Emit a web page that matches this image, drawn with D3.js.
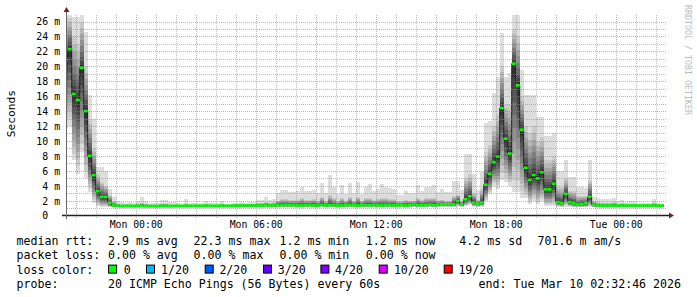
<!DOCTYPE html>
<html><head><meta charset="utf-8">
<script src="https://cdn.jsdelivr.net/npm/d3@7/dist/d3.min.js"></script>
<style>
html,body{margin:0;padding:0;background:#fff;}
svg{display:block;}
text{font-family:"DejaVu Sans Mono",monospace;}
</style></head><body>
<svg id="chart" width="697" height="297"></svg>
<script>
// ---------- data ----------
const endTime = Date.UTC(2026, 2, 10, 2, 32, 46);
const startTime = endTime - 30 * 3600 * 1000;
const firstStepTime = Date.UTC(2026, 2, 8, 20, 24, 0);
const stepMinutes = 12;

// median rtt per 12-minute step (ms)
const median = [
  20.9,22.3,16.3,15.5,19.8,14.0,8.0,5.4,3.25,2.5,2.5,1.7,1.35,
  1.30,1.28,1.30,1.30,1.28,1.30,1.30,1.28,1.27,1.27,
  1.27,1.30,1.30,1.28,1.28,1.30,1.30,1.32,1.30,1.30,
  1.30,1.30,1.32,1.30,1.30,1.30,1.32,1.30,1.30,1.32,
  1.33,1.35,1.33,1.35,1.35,1.35,1.33,1.38,1.35,1.35,
  1.40,1.38,1.40,1.38,1.40,1.35,1.35,1.38,1.40,1.35,
  1.35,1.42,1.35,1.40,1.38,1.35,1.35,1.38,1.40,1.38,
  1.35,1.38,1.40,1.38,1.40,1.38,1.35,1.38,1.40,1.35,
  1.38,1.38,1.35,1.40,1.45,1.40,1.38,1.40,1.45,1.40,1.42,
  1.50,1.50,1.50,1.50,1.94,1.50,2.17,2.57,1.72,1.55,1.73,
  4.13,5.60,7.17,7.90,14.40,10.30,8.30,20.35,17.45,11.50,6.40,
  4.76,5.43,4.98,5.79,3.50,3.50,4.26,1.80,1.66,2.90,1.80,1.63,1.47,1.54,1.68,2.52,1.43,
  1.35,1.33,1.33,1.35,1.33,1.33,1.33,1.35,1.33,1.33,1.33,1.33,1.35,1.33,1.33,1.33,1.33
];
// fastest ping per step (ms)
const pingLow = [
  11.7,12.0,7.4,5.6,8.5,5.0,3.2,1.7,1.25,1.2,1.2,1.1,1.1,
  1.08,1.07,1.08,1.08,1.07,1.08,1.08,1.07,1.06,1.06,
  1.06,1.08,1.08,1.07,1.07,1.08,1.08,1.09,1.08,1.08,
  1.08,1.08,1.09,1.08,1.08,1.08,1.09,1.08,1.08,1.09,
  1.09,1.10,1.09,1.10,1.10,1.10,1.09,1.11,1.10,1.10,
  1.12,1.11,1.12,1.11,1.12,1.10,1.10,1.11,1.12,1.10,
  1.10,1.13,1.10,1.12,1.11,1.10,1.10,1.11,1.12,1.11,
  1.10,1.11,1.12,1.11,1.12,1.11,1.10,1.11,1.12,1.10,
  1.11,1.11,1.10,1.12,1.14,1.12,1.11,1.12,1.14,1.12,1.13,
  1.15,1.15,1.15,1.15,1.2,1.15,1.3,1.4,1.2,1.15,1.2,
  1.9,2.9,4.0,3.6,4.7,4.5,4.0,3.1,3.2,2.4,2.3,
  1.5,2.0,1.5,1.9,1.3,1.3,1.3,1.15,1.15,1.2,1.15,1.1,1.1,1.1,1.1,1.15,1.1,
  1.1,1.1,1.1,1.1,1.1,1.1,1.1,1.1,1.1,1.1,1.1,1.1,1.1,1.1,1.1,1.1,1.1
];
// slowest ping per step (ms)
const pingHigh = [
  26.9,26.9,26.6,26.6,26.9,24.6,16.2,13.0,6.5,6.5,5.9,3.6,2.5,
  2.0,1.8,1.7,1.8,1.7,1.9,2.43,1.94,1.72,1.72,
  1.72,2.08,2.08,1.77,1.77,1.63,1.55,2.17,1.72,1.63,
  1.63,1.63,1.98,1.63,1.63,1.63,1.98,1.59,1.59,1.72,
  1.70,1.85,1.72,1.81,1.81,2.08,2.08,2.52,2.08,2.17,
  2.97,3.42,3.42,3.15,3.15,3.30,3.86,3.33,3.33,3.42,
  2.97,4.40,3.06,5.43,3.86,2.88,4.05,2.88,4.40,2.97,
  4.49,2.88,3.86,4.22,3.24,3.60,4.22,3.86,3.69,3.60,
  2.79,2.79,3.24,2.97,3.06,4.13,3.24,3.86,3.86,4.13,3.15,
  3.5,3.1,3.1,4.58,4.58,3.4,8.2,8.2,5.6,3.4,5.8,
  12.4,12.6,16.4,18.5,24.5,18.5,19.1,26.9,26.9,19.5,16.2,
  16.2,16.1,13.2,13.2,10.6,10.6,11.1,6.0,6.0,7.5,5.1,5.1,3.86,3.86,3.7,7.5,2.5,
  2.3,2.17,2.17,2.2,2.3,1.9,2.03,1.8,1.9,2.0,1.65,1.65,1.65,1.7,2.17,1.63,1.6
];
// upper edge of the bulk of pings (ms)
const pingMidHigh = [
  26.5,26.5,24.0,23.0,26.0,20.0,13.0,9.0,5.5,4.5,4.0,2.8,1.9,
  1.6,1.5,1.5,1.5,1.5,1.55,1.7,1.6,1.5,1.5,
  1.5,1.6,1.6,1.5,1.5,1.5,1.45,1.6,1.5,1.5,
  1.5,1.5,1.6,1.5,1.5,1.5,1.6,1.5,1.5,1.55,
  1.55,1.6,1.55,1.6,1.6,1.7,1.7,1.8,1.7,1.75,
  2.0,2.2,2.2,2.1,2.1,2.1,2.3,2.1,2.1,2.2,
  2.0,2.5,2.0,2.8,2.3,2.0,2.4,2.0,2.5,2.0,
  2.5,2.0,2.3,2.4,2.1,2.2,2.4,2.3,2.2,2.2,
  1.9,1.9,2.1,2.0,2.0,2.4,2.1,2.3,2.3,2.4,2.1,
  2.1,2.0,2.0,2.6,2.8,2.0,5.0,5.5,3.0,2.1,3.5,
  8.5,9.5,12.0,13.5,20.0,15.0,15.0,25.0,24.0,16.0,12.0,
  11.0,12.0,10.0,10.5,7.5,7.5,8.0,3.8,3.8,5.0,3.3,3.3,2.6,2.6,2.6,4.8,1.9,
  1.75,1.7,1.7,1.7,1.75,1.6,1.65,1.55,1.6,1.6,1.5,1.5,1.5,1.5,1.7,1.5,1.5
];

const yTickValues = [0,2,4,6,8,10,12,14,16,18,20,22,24,26];
const xTickTimes = [
  Date.UTC(2026,2,9,0,0), Date.UTC(2026,2,9,6,0), Date.UTC(2026,2,9,12,0),
  Date.UTC(2026,2,9,18,0), Date.UTC(2026,2,10,0,0)
];
const lossLabels = ["0","1/20","2/20","3/20","4/20","10/20","19/20"];
const lossColors = ["#00ff00","#00b8ff","#0059ff","#5e00ff","#7e00ff","#dd00ff","#ff0000"];
const smokeGrays = [221,202,183,164,145,126,107,88,69,50];

const statRows = [
  ["median rtt:", "2.9 ms avg", "22.3 ms max", "1.2 ms min", "1.2 ms now", "4.2 ms sd", "701.6 m am/s"],
  ["packet loss:", "0.00 % avg", "0.00 % max", "0.00 % min", "0.00 % now"]
];
const probeText = "20 ICMP Echo Pings (56 Bytes) every 60s";
const endText = "end: Tue Mar 10 02:32:46 2026";

// ---------- layout ----------
const plotL = 66.6, plotR = 666.6, plotB = 215.5, plotT = 14.8;
const svg = d3.select("#chart");
const x = d3.scaleUtc().domain([startTime, endTime]).range([plotL, plotR]);
const y = d3.scaleLinear().domain([0, 26.9]).range([plotB, plotT]);
const stepMs = stepMinutes * 60000;

svg.append("rect").attr("width",697).attr("height",297).attr("fill","#fff");
svg.append("clipPath").attr("id","clip").append("rect")
  .attr("x",plotL).attr("y",plotT).attr("width",plotR-plotL).attr("height",plotB-plotT);

const steps = median.map((m,i)=>({
  i, t0: firstStepTime + i*stepMs, t1: firstStepTime + (i+1)*stepMs,
  med: m, lo: pingLow[i], hi: pingHigh[i], mh: pingMidHigh[i]
}));

const g = svg.append("g").attr("clip-path","url(#clip)");

// smoke layers
smokeGrays.forEach((gray, li) => {
  const layer = li + 1;
  const col = d3.rgb(gray,gray,gray).formatHex();
  const topOf = d => layer === 1 ? d.hi : d.med + (d.mh - d.med) * Math.pow((11-layer)/9, 1.3);
  const botOf = d => d.med - (d.med - d.lo) * ((11-layer)/10);
  g.append("g").selectAll("rect").data(steps).join("rect")
    .attr("x", d => x(d.t0))
    .attr("width", d => x(d.t1) - x(d.t0) + 0.05)
    .attr("y", d => y(topOf(d)))
    .attr("height", d => Math.max(0, y(botOf(d)) - y(topOf(d))))
    .attr("fill", col)
    .attr("shape-rendering","crispEdges");
});

// median line (dark)
const linePts = steps.map(d => [x(d.t0), y(d.med)]);
linePts.push([x(steps[steps.length-1].t1), y(steps[steps.length-1].med)]);
g.append("path").attr("d", d3.line().curve(d3.curveStepAfter)(linePts))
  .attr("fill","none").attr("stroke","#202020").attr("stroke-width",1);

// loss-colored median markers
g.append("g").selectAll("rect").data(steps).join("rect")
  .attr("x", d => x(d.t0)).attr("width", d => x(d.t1) - x(d.t0))
  .attr("y", d => y(d.med) - 1.3).attr("height", 2.6)
  .attr("fill", lossColors[0]);

// grid (on top), dotted on whole pixels
const minorCol = "rgba(143,143,143,0.6)";
const majorCol = "rgba(222,79,79,0.55)";
const gx0 = Math.round(plotL), gx1 = Math.round(plotR);
const gy0 = Math.round(plotT) - 1, gy1 = Math.round(plotB) + 2;
const grid = svg.append("g").attr("shape-rendering","crispEdges");
const minorY = d3.range(1, 27, 1).filter(v => v % 2 !== 0);
grid.selectAll(".hmin").data(minorY).join("line")
  .attr("x1", gx0).attr("x2", gx1)
  .attr("y1", d => Math.round(y(d)) + 0.5).attr("y2", d => Math.round(y(d)) + 0.5)
  .attr("stroke",minorCol).attr("stroke-dasharray","1,1");
grid.selectAll(".hmaj").data(yTickValues.filter(v=>v>0)).join("line")
  .attr("x1", gx0).attr("x2", gx1)
  .attr("y1", d => Math.round(y(d)) + 0.5).attr("y2", d => Math.round(y(d)) + 0.5)
  .attr("stroke",majorCol).attr("stroke-dasharray","1,1");
const hours = d3.utcHour.range(new Date(startTime), new Date(endTime));
grid.selectAll(".v").data(hours).join("line")
  .attr("x1", d => Math.round(x(d)) + 0.5).attr("x2", d => Math.round(x(d)) + 0.5)
  .attr("y1", gy1).attr("y2", gy0)
  .attr("stroke", d => d.getUTCHours() % 3 === 0 ? majorCol : minorCol)
  .attr("stroke-dasharray","1,1");

// axes
const yAxis = d3.axisLeft(y).tickValues(yTickValues).tickSize(0).tickPadding(6.5)
  .tickFormat(d => d === 0 ? "0\u00a0\u00a0" : d + " m");
const yg = svg.append("g").attr("transform",`translate(${plotL},0)`).call(yAxis);
yg.select(".domain").remove();
yg.selectAll("text").attr("font-family","DejaVu Sans Mono").attr("font-size","9.9px").attr("fill","#000").attr("dy","0.35em");

const xAxis = d3.axisBottom(x).tickValues(xTickTimes.map(t=>new Date(t))).tickSize(0).tickPadding(6)
  .tickFormat(d3.utcFormat("%a %H:%M"));
const xg = svg.append("g").attr("transform",`translate(0,${plotB})`).call(xAxis);
xg.select(".domain").remove();
xg.selectAll("text").attr("font-family","DejaVu Sans Mono").attr("font-size","9.8px").attr("fill","#000");

// axis lines + arrows
svg.append("line").attr("x1",62).attr("x2",669).attr("y1",plotB).attr("y2",plotB)
  .attr("stroke","#1f1f1f").attr("stroke-width",1.4);
svg.append("path").attr("d",`M669,${plotB-3}L674,${plotB}L669,${plotB+3}Z`).attr("fill","#801f1f");
svg.append("line").attr("x1",66.5).attr("x2",66.5).attr("y1",219).attr("y2",12)
  .attr("stroke","#6a6a6a").attr("stroke-width",1);
svg.append("path").attr("d","M63.5,12L66.5,7L69.5,12Z").attr("fill","#801f1f");

// titles
svg.append("text").attr("transform","translate(15,113.7) rotate(-90)")
  .attr("text-anchor","middle").attr("font-size","11.2px").attr("fill","#000").text("Seconds");
svg.append("text").attr("transform","translate(685.3,5) rotate(90)")
  .attr("font-size","8.3px").attr("fill","#bcbcbc").text("RRDTOOL / TOBI OETIKER");

// legend
const fs = "11.6px";
const colX = [16.5, 108, 193.6, 279.5, 365.8, 459.3, 537.6];
const rowY = [245, 259.3, 273.6, 288];
statRows.forEach((row, r) => {
  row.forEach((txt, c) => {
    svg.append("text").attr("x", colX[c]).attr("y", rowY[r]).attr("font-size", fs)
      .attr("fill","#000").attr("xml:space","preserve").text(txt);
  });
});
svg.append("text").attr("x",16.5).attr("y",rowY[2]).attr("font-size",fs).attr("fill","#000").text("loss color:");
const boxX = [108.1,146,204.7,263,320.4,378.7,443.7];
const labX = [123.7,161,219.4,277.7,335,393.9,458.4];
lossLabels.forEach((lab,i)=>{
  svg.append("rect").attr("x",boxX[i]+0.5).attr("y",rowY[2]-8.5).attr("width",8).attr("height",8)
    .attr("fill",lossColors[i]).attr("stroke","#000").attr("stroke-width",1);
  svg.append("text").attr("x",labX[i]).attr("y",rowY[2]).attr("font-size",fs).attr("fill","#000").text(lab);
});
svg.append("text").attr("x",16.5).attr("y",rowY[3]).attr("font-size",fs).attr("fill","#000").text("probe:");
svg.append("text").attr("x",108).attr("y",rowY[3]).attr("font-size",fs).attr("fill","#000").text(probeText);
svg.append("text").attr("x",681).attr("y",rowY[3]).attr("text-anchor","end").attr("font-size",fs).attr("fill","#000").text(endText);
</script>
</body></html>
